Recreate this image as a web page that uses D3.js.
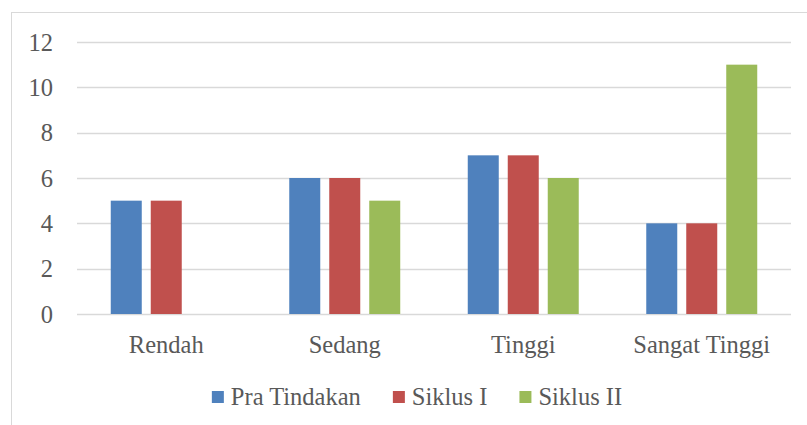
<!DOCTYPE html>
<html>
<head>
<meta charset="utf-8">
<script src="https://cdn.jsdelivr.net/npm/d3@7"></script>
<style>
  body { margin: 0; background: #fff; }
  text { font-family: "Liberation Serif", serif; fill: #595959; }
</style>
</head>
<body>
<script>
var categories = ['Rendah', 'Sedang', 'Tinggi', 'Sangat Tinggi'];
var seriesNames = ['Pra Tindakan', 'Siklus I', 'Siklus II'];
var praTindakan = [5, 6, 7, 4];
var siklusI = [5, 6, 7, 4];
var siklusII = [0, 5, 6, 11];
var yTicks = [0, 2, 4, 6, 8, 10, 12];
var colors = ['#4F81BD', '#C0504D', '#9BBB59'];

var seriesValues = [praTindakan, siklusI, siklusII];
var width = 807, height = 425;
var plotLeft = 77, plotRight = 791, plotTop = 42, plotBottom = 314;
var fontSize = 24.5;

var svg = d3.select('body').append('svg')
    .attr('width', width)
    .attr('height', height);

svg.append('rect')
    .attr('x', 11.5).attr('y', 12.5)
    .attr('width', 800).attr('height', 420)
    .attr('fill', 'none')
    .attr('stroke', '#d9d9d9');

var x = d3.scaleBand().domain(categories).range([plotLeft, plotRight]);
var xInner = d3.scaleBand().domain(seriesNames)
    .range([0, x.bandwidth()])
    .paddingInner(0.225)
    .paddingOuter(0.844);
var y = d3.scaleLinear().domain([0, 12]).range([plotBottom, plotTop]);

// gridlines
svg.append('g').selectAll('line')
    .data(yTicks)
    .enter().append('line')
    .attr('x1', plotLeft).attr('x2', plotRight)
    .attr('y1', (d) => Math.round(y(d)) + 0.5)
    .attr('y2', (d) => Math.round(y(d)) + 0.5)
    .attr('stroke', '#d9d9d9')
    .attr('stroke-width', 1.3);

// y labels
svg.append('g').selectAll('text')
    .data(yTicks)
    .enter().append('text')
    .attr('x', 53)
    .attr('y', (d) => y(d))
    .attr('dy', '.35em')
    .attr('text-anchor', 'end')
    .attr('font-size', fontSize)
    .text((d) => d);

// bars
var groups = svg.append('g').selectAll('g')
    .data(categories)
    .enter().append('g')
    .attr('transform', (d) => `translate(${x(d)},0)`);

groups.selectAll('rect')
    .data((d, i) => seriesNames.map((s, j) => ({ s: s, v: seriesValues[j][i], c: colors[j] })))
    .enter().append('rect')
    .attr('x', (d) => xInner(d.s))
    .attr('width', xInner.bandwidth())
    .attr('y', (d) => y(d.v))
    .attr('height', (d) => y(0) - y(d.v))
    .attr('fill', (d) => d.c);

// x labels
svg.append('g').selectAll('text')
    .data(categories)
    .enter().append('text')
    .attr('x', (d) => x(d) + x.bandwidth() / 2)
    .attr('y', 353)
    .attr('text-anchor', 'middle')
    .attr('font-size', fontSize)
    .text((d) => d);

// legend
var legend = svg.append('g');
var items = legend.selectAll('g')
    .data(seriesNames)
    .enter().append('g');
items.append('rect')
    .attr('width', 12).attr('height', 12)
    .attr('y', 391)
    .attr('fill', (d, i) => colors[i]);
items.append('text')
    .attr('x', 19)
    .attr('y', 405)
    .attr('font-size', fontSize)
    .text((d) => d);

var pos = 0;
items.each(function() {
    var item = d3.select(this);
    item.attr('transform', `translate(${pos},0)`);
    pos += 19 + item.select('text').node().getComputedTextLength() + 32;
});
var legendWidth = pos - 32;
legend.attr('transform', `translate(${417 - legendWidth / 2},0)`);
</script>
</body>
</html>
